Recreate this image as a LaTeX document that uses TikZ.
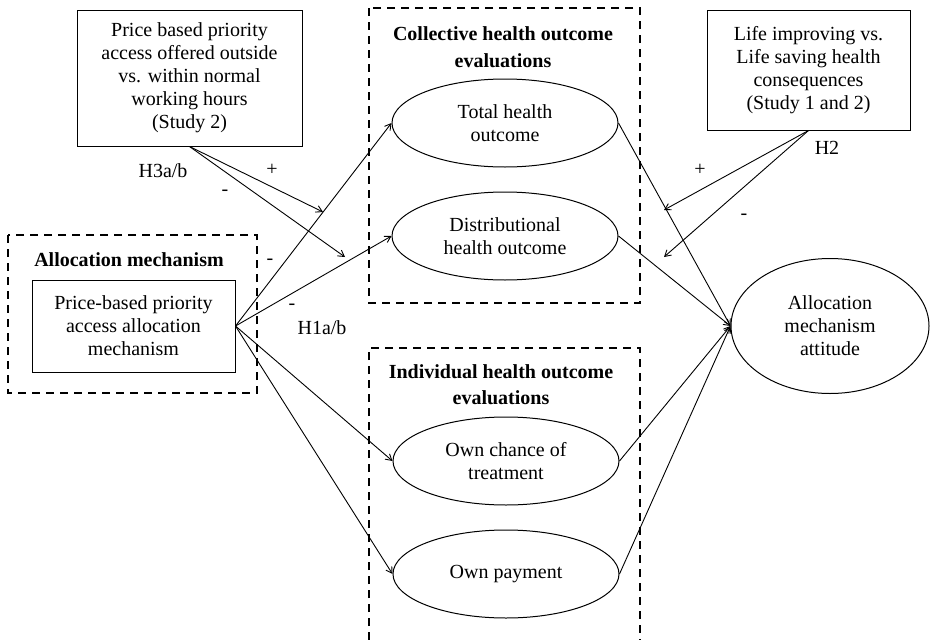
\documentclass[tikz,border=0pt]{standalone}
\usepackage{fontspec}
\setmainfont{Liberation Serif}
\usetikzlibrary{shapes.geometric,arrows.meta}

\tikzset{
  txt/.style={font=\fontsize{20}{23}\selectfont, align=center, inner sep=0pt},
  varbox/.style={txt, draw, line width=1pt},
  construct/.style={txt, draw, ellipse, line width=1pt, minimum width=226pt, minimum height=88pt},
  group/.style={line width=1.3pt, dash pattern=on 8pt off 6pt},
  effect/.style={line width=0.9pt, -{Straight Barb[length=6pt,width=7pt]}}
}

\begin{document}
\begin{tikzpicture}[x=1pt,y=-1pt]
  \useasboundingbox (0,0) rectangle (932,640);

  % dashed groups
  \draw[group] (8,235) rectangle (257,393);
  \draw[group] (369,8) rectangle (640,303);
  \draw[group] (369,640) -- (369,348) -- (640,348) -- (640,640);

  % group titles
  \node[txt,font=\fontsize{20}{23}\selectfont\bfseries] (alloctitle) at (129,260) {Allocation mechanism};
  \node[txt,font=\fontsize{20}{27}\selectfont\bfseries] (colltitle) at (503,47) {Collective health outcome\\evaluations};
  \node[txt,font=\fontsize{20}{26}\selectfont\bfseries] (indtitle) at (501,385) {Individual health outcome\\evaluations};

  % moderators
  \node[varbox, minimum width=225pt, minimum height=136pt] (hours) at (189.5,78)
    {Price based priority\\access offered outside\\vs. within normal\\working hours\\(Study 2)};
  \node[varbox, minimum width=203pt, minimum height=120pt] (life) at (808.5,70)
    {Life improving vs.\\Life saving health\\consequences\\(Study 1 and 2)};

  % independent variable
  \node[varbox, minimum width=203pt, minimum height=92pt] (alloc) at (133.5,326)
    {Price-based priority\\access allocation\\mechanism};

  % mediators
  \node[construct] (total) at (505,123) {Total health\\outcome};
  \node[construct] (distr) at (505,236) {Distributional\\health outcome};
  \node[construct] (chance) at (506,461) {Own chance of\\treatment};
  \node[construct] (pay) at (506,574) {Own payment};

  % dependent variable
  \node[construct, minimum width=198pt, minimum height=135pt] (att) at (830,326)
    {Allocation\\mechanism\\attitude};

  % free ends of moderating arrows
  \coordinate (h3a) at (323,212);
  \coordinate (h3b) at (345,257);
  \coordinate (h2a) at (664,210);
  \coordinate (h2b) at (664,257);

  % paths
  \draw[effect] (alloc.east) -- (total.west);
  \draw[effect] (alloc.east) -- (distr.west);
  \draw[effect] (alloc.east) -- (chance.west);
  \draw[effect] (alloc.east) -- (pay.west);
  \draw[effect] (total.east) -- (att.west);
  \draw[effect] (distr.east) -- (att.west);
  \draw[effect] (chance.east) -- (att.west);
  \draw[effect] (pay.east) -- (att.west);
  \draw[effect] (hours.south) -- (h3a);
  \draw[effect] (hours.south) -- (h3b);
  \draw[effect] (life.south) -- (h2a);
  \draw[effect] (life.south) -- (h2b);

  % labels
  \node[txt] (lh3) at (163,171) {H3a/b};
  \node[txt] (lh3p) at (272,170) {+};
  \node[txt] (lh3m) at (225,193) {-};
  \node[txt] (lh1ma) at (270,262) {-};
  \node[txt] (lh1mb) at (292,307) {-};
  \node[txt] (lh1) at (322,328) {H1a/b};
  \node[txt] (lh2) at (827,148) {H2};
  \node[txt] (lh2p) at (700,170) {+};
  \node[txt] (lh2m) at (744,217) {-};
\end{tikzpicture}
\end{document}
